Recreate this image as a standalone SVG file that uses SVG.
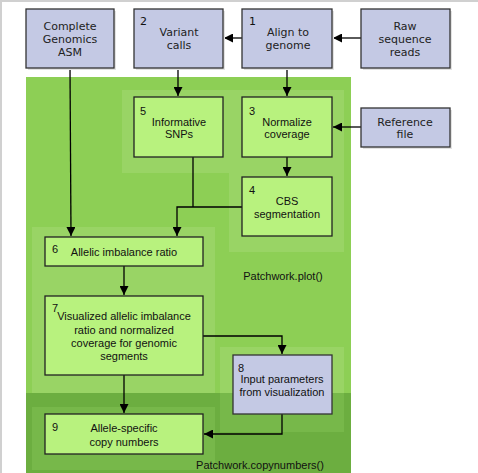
<svg xmlns="http://www.w3.org/2000/svg" width="478" height="473" viewBox="0 0 478 473">
<defs>
<marker id="ah" viewBox="0 0 10 10" refX="10" refY="5" markerWidth="9" markerHeight="9" markerUnits="userSpaceOnUse" orient="auto">
<path d="M0,0 L10,5 L0,10 Z" fill="#000"/>
</marker>
</defs>
<style>
.ext{fill:#c4c9e4;stroke:#333;stroke-width:1.3}
.shadow{fill:#e2e2e2}
.step{fill:#b8f27e;stroke:#222;stroke-width:1.3}
.lav{fill:#c4c9e4;stroke:#333;stroke-width:1.3}
.tv{font-family:"DejaVu Sans",Verdana,sans-serif;font-size:11px;fill:#222;text-anchor:middle}
.ta{font-family:"Liberation Sans",Arial,sans-serif;font-size:11px;fill:#111;text-anchor:middle}
.num{font-family:"Liberation Sans",Arial,sans-serif;font-size:11px;fill:#111}
.lbl{font-family:"Liberation Sans",Arial,sans-serif;font-size:11px;fill:#111;text-anchor:middle}
.conn{fill:none;stroke:#000;stroke-width:1.3}
</style>
<rect x="0" y="0" width="478" height="473" fill="#fff"/>
<path d="M1,473 V1 H478" fill="none" stroke="#d0d0d0" stroke-width="2"/>
<g id="backgrounds">
<rect x="26" y="77" width="325" height="396" fill="#8dcf55"/>
<rect x="26" y="393" width="325" height="80" fill="#6cae40"/>
<rect x="122" y="90" width="110" height="83" fill="#99d465"/>
<rect x="229" y="90" width="115" height="162" fill="#99d465"/>
<rect x="32" y="227" width="183" height="166" fill="#99d465"/>
<rect x="220" y="347" width="124" height="46" fill="#99d465"/>
<rect x="220" y="393" width="124" height="39" fill="#77b84a"/>
<rect x="32" y="407" width="183" height="63" fill="#77b84a"/>
</g>
<g id="connectors">
<line class="conn" x1="361" y1="38" x2="333" y2="38" marker-end="url(#ah)"/>
<line class="conn" x1="242" y1="38" x2="224" y2="38" marker-end="url(#ah)"/>
<line class="conn" x1="178" y1="68" x2="178" y2="96" marker-end="url(#ah)"/>
<line class="conn" x1="287" y1="68" x2="287" y2="96" marker-end="url(#ah)"/>
<line class="conn" x1="361" y1="127" x2="333" y2="127" marker-end="url(#ah)"/>
<line class="conn" x1="287" y1="157" x2="287" y2="176" marker-end="url(#ah)"/>
<line class="conn" x1="70" y1="68" x2="71" y2="236" marker-end="url(#ah)"/>
<line class="conn" x1="193" y1="157" x2="193" y2="207"/>
<polyline class="conn" points="242,207 177,207 177,236" marker-end="url(#ah)"/>
<line class="conn" x1="124" y1="266" x2="124" y2="295" marker-end="url(#ah)"/>
<polyline class="conn" points="203,336 282,336 282,354" marker-end="url(#ah)"/>
<line class="conn" x1="124" y1="375" x2="124" y2="413" marker-end="url(#ah)"/>
<polyline class="conn" points="282,414 282,434 204,434" marker-end="url(#ah)"/>
</g>
<g id="node-cg">
<rect class="shadow" x="28" y="11" width="88" height="59"/>
<rect class="ext" x="26" y="9" width="88" height="59"/>
<text class="tv" x="70" y="30">Complete</text>
<text class="tv" x="70" y="43">Genomics</text>
<text class="tv" x="70" y="56">ASM</text>
</g>
<g id="node-2">
<rect class="shadow" x="136" y="11" width="89" height="59"/>
<rect class="ext" x="134" y="9" width="89" height="59"/>
<text class="num" x="140" y="25" style="font-family:'DejaVu Sans',sans-serif">2</text>
<text class="tv" x="179" y="36">Variant</text>
<text class="tv" x="179" y="49">calls</text>
</g>
<g id="node-1">
<rect class="shadow" x="244" y="11" width="90" height="59"/>
<rect class="ext" x="242" y="9" width="90" height="59"/>
<text class="num" x="249" y="25" style="font-family:'DejaVu Sans',sans-serif">1</text>
<text class="tv" x="288" y="36">Align to</text>
<text class="tv" x="288" y="49">genome</text>
</g>
<g id="node-raw">
<rect class="shadow" x="363" y="11" width="89" height="59"/>
<rect class="ext" x="361" y="9" width="89" height="59"/>
<text class="tv" x="405" y="30">Raw</text>
<text class="tv" x="405" y="43">sequence</text>
<text class="tv" x="405" y="56">reads</text>
</g>
<g id="node-ref">
<rect class="shadow" x="363" y="110" width="89" height="39"/>
<rect class="ext" x="361" y="108" width="89" height="39"/>
<text class="tv" x="405" y="126">Reference</text>
<text class="tv" x="405" y="138">file</text>
</g>
<g id="node-5">
<rect class="step" x="134" y="97" width="89" height="60"/>
<text class="num" x="140" y="115">5</text>
<text class="ta" x="179" y="126">Informative</text>
<text class="ta" x="179" y="138">SNPs</text>
</g>
<g id="node-3">
<rect class="step" x="242" y="97" width="90" height="60"/>
<text class="num" x="249" y="115">3</text>
<text class="ta" x="287" y="126">Normalize</text>
<text class="ta" x="287" y="138">coverage</text>
</g>
<g id="node-4">
<rect class="step" x="242" y="177" width="90" height="59"/>
<text class="num" x="249" y="194">4</text>
<text class="ta" x="287" y="205">CBS</text>
<text class="ta" x="287" y="218">segmentation</text>
</g>
<g id="node-6">
<rect class="step" x="45" y="237" width="158" height="29"/>
<text class="num" x="52" y="253">6</text>
<text class="ta" x="124" y="256">Allelic imbalance ratio</text>
</g>
<g id="node-7">
<rect class="step" x="45" y="296" width="158" height="79"/>
<text class="num" x="52" y="312">7</text>
<text class="ta" x="124" y="320">Visualized allelic imbalance</text>
<text class="ta" x="124" y="334">ratio and normalized</text>
<text class="ta" x="124" y="347">coverage for genomic</text>
<text class="ta" x="124" y="360">segments</text>
</g>
<g id="node-8">
<rect class="lav" x="233" y="355" width="99" height="59"/>
<text class="num" x="238" y="372">8</text>
<text class="ta" x="282" y="383">Input parameters</text>
<text class="ta" x="282" y="396">from visualization</text>
</g>
<g id="node-9">
<rect class="step" x="45" y="414" width="158" height="40"/>
<text class="num" x="52" y="431">9</text>
<text class="ta" x="124" y="432">Allele-specific</text>
<text class="ta" x="124" y="446">copy numbers</text>
</g>
<g id="labels">
<text class="lbl" x="283" y="280">Patchwork.plot()</text>
<text class="lbl" x="260" y="469">Patchwork.copynumbers()</text>
</g>
</svg>
